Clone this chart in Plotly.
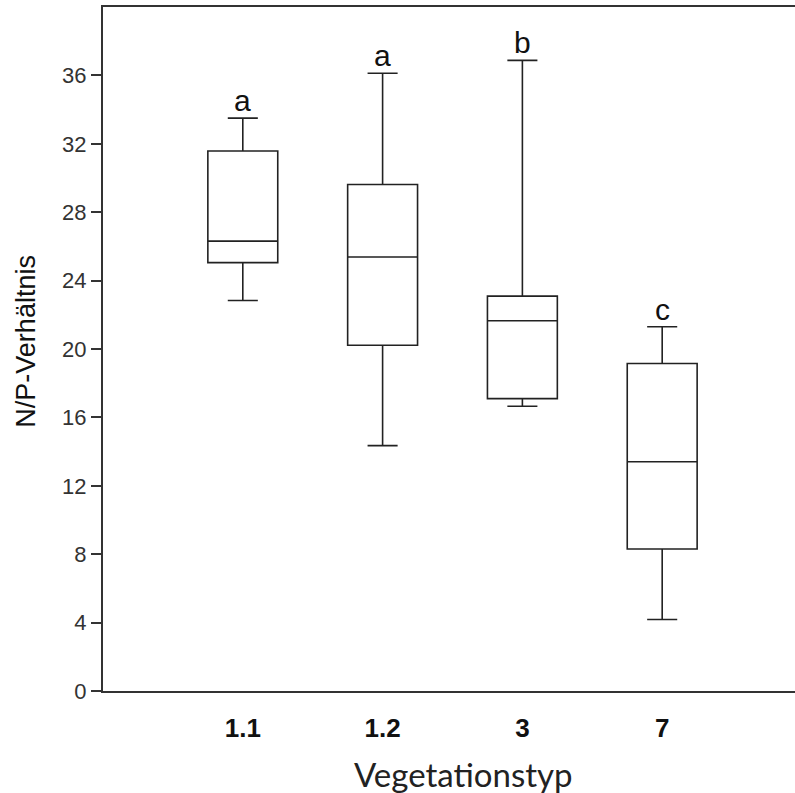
import plotly.graph_objects as go

categories = ["1.1", "1.2", "3", "7"]
q1 = [25.05, 20.22, 17.1, 8.3]
median = [26.31, 25.38, 21.65, 13.41]
q3 = [31.58, 29.62, 23.09, 19.15]
lowerfence = [22.84, 14.35, 16.65, 4.18]
upperfence = [33.5, 36.13, 36.88, 21.3]
letters = ["a", "a", "b", "c"]
y_ticks = [0, 4, 8, 12, 16, 20, 24, 28, 32, 36]

LINE = "#222222"
fig = go.Figure()
for i, cat in enumerate(categories):
    fig.add_trace(go.Box(
        x=[i], q1=[q1[i]], median=[median[i]], q3=[q3[i]],
        lowerfence=[lowerfence[i]], upperfence=[upperfence[i]],
        width=0.5, whiskerwidth=0.43,
        fillcolor="white", line=dict(color=LINE, width=1.6),
        boxpoints=False, showlegend=False, name=cat, hoverinfo="skip",
    ))
    fig.add_annotation(x=i, y=upperfence[i], text=letters[i], showarrow=False,
                       yanchor="bottom", xanchor="center", yshift=-1,
                       font=dict(family="Arial, Liberation Sans", size=30, color="#111"))

fig.add_annotation(xref="paper", yref="paper", x=-0.111, y=0.511,
                   text="N/P-Verhältnis", textangle=-90, showarrow=False,
                   xanchor="center", yanchor="middle",
                   font=dict(family="Arial, Liberation Sans", size=27, color="#111"))
fig.add_annotation(xref="paper", yref="paper", x=0.521, y=0, yshift=-105,
                   text="Vegetationstyp", showarrow=False,
                   xanchor="center", yanchor="bottom",
                   font=dict(family="Lato, Open Sans", size=33, color="#222"))

fig.update_layout(
    width=795, height=793,
    margin=dict(l=103, r=0, t=7, b=102),
    paper_bgcolor="white", plot_bgcolor="white",
    xaxis=dict(range=[-1, 3.95], tickvals=list(range(len(categories))), ticktext=categories,
               showgrid=False, zeroline=False, showline=True, linecolor="#333", linewidth=2,
               mirror=True, ticks="", ticklabelstandoff=13,
               tickfont=dict(family="Arial, Liberation Sans", size=26, color="#111", weight="bold")),
    yaxis=dict(range=[0, 40], tickvals=y_ticks, showgrid=False, zeroline=False,
               showline=True, linecolor="#333", linewidth=2,
               ticks="outside", ticklen=10, tickwidth=1.5, tickcolor="#333",
               tickfont=dict(family="Arial, Liberation Sans", size=22, color="#333")),
)

fig.write_html("out.html", config={"displayModeBar": False},
               post_script="document.body.style.margin='0';")
